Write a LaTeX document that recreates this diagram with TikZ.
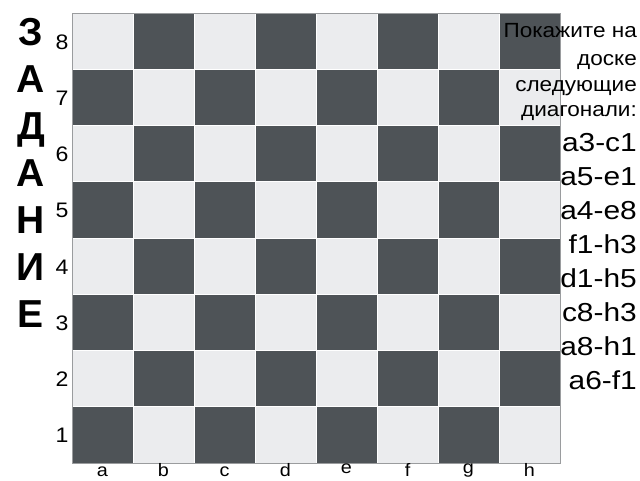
\documentclass[tikz,border=0pt]{standalone}
\usepackage{fontspec}
\setmainfont{Liberation Sans}
\newfontfamily\widefont[FakeStretch=1.1]{Liberation Sans}
\newfontfamily\widerfont[FakeStretch=1.15]{Liberation Sans}
\definecolor{lightsq}{HTML}{EBECEE}
\definecolor{darksq}{HTML}{4E5357}
\definecolor{rimgrey}{HTML}{9A9C9E}
\tikzset{
  rank/.style={anchor=base, font=\widefont\fontsize{21}{21}\selectfont},
  file/.style={anchor=base, inner sep=0pt, font=\widefont\fontsize{18}{18}\selectfont},
  title/.style={anchor=base, font=\fontsize{39}{39}\selectfont\bfseries},
  task/.style={anchor=base east, inner sep=0pt, font=\widefont\fontsize{20.5}{20.5}\selectfont},
  diag/.style={anchor=base east, inner sep=0pt, font=\widerfont\fontsize{26}{26}\selectfont}
}
\begin{document}
\begin{tikzpicture}[x=1pt,y=-1pt]
  \useasboundingbox[fill=white] (0,0) rectangle (640,480);

  % Board squares
  \foreach \c in {0,...,7}
    \foreach \r in {0,...,7} {
      \pgfmathtruncatemacro\odd{mod(\c+\r,2)}
      \ifnum\odd=0 \def\sq{lightsq}\else\def\sq{darksq}\fi
      \path[fill=\sq, draw=white, line width=0.8pt]
        (72+61*\c,13+56.25*\r) rectangle ++(61,56.25);
    }
  \draw[rimgrey, line width=1pt] (72,13) rectangle (560,463);

  % Ranks and files
  \foreach \n [count=\r from 0] in {8,...,1}
    \node[rank] (rank\n) at (62,49+56.25*\r) {\n};
  \foreach \f/\dy [count=\c from 0] in {a/0,b/0,c/0,d/0,e/-3,f/0,g/-3,h/0}
    \node[file] (file\f) at (102.5+61*\c,476+\dy) {\f};

  % Title down the left side
  \foreach \l [count=\k from 0] in {З,А,Д,А,Н,И,Е}
    \node[title] (title\k) at (31,45+47*\k) {\l};

  % Task text
  \node[task] (task1) at (637,37) {Покажите на};
  \node[task] (task2) at (637,65) {доске};
  \node[task] (task3) at (637,91) {следующие};
  \node[task] (task4) at (637,116) {диагонали:};

  \foreach \d [count=\k from 0] in {a3-c1,a5-e1,a4-e8,f1-h3,d1-h5,c8-h3,a8-h1,a6-f1}
    \node[diag] (diag\k) at (637,151+34*\k) {\d};

\end{tikzpicture}
\end{document}
